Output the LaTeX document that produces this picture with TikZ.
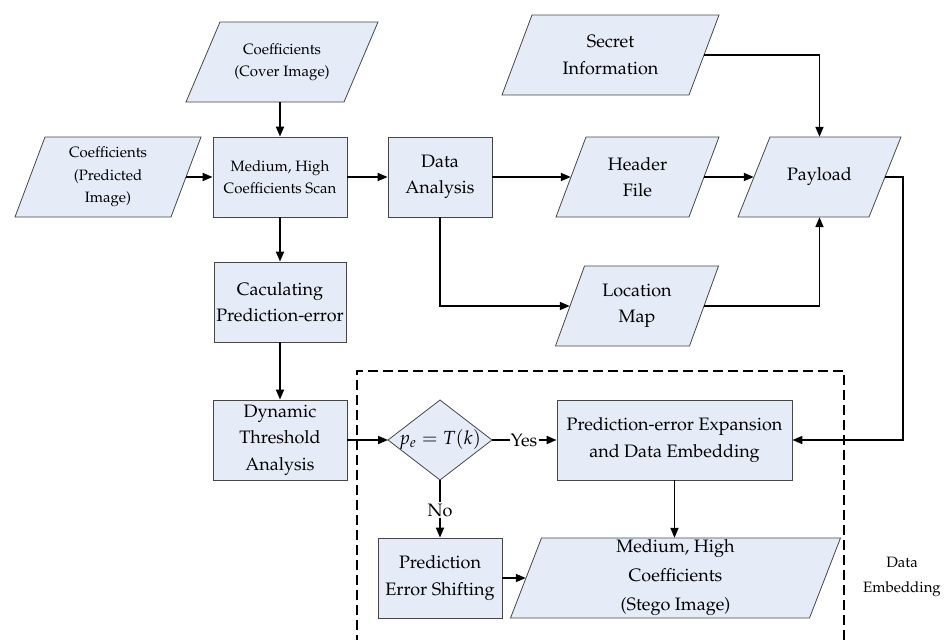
\documentclass[tikz,border=0pt]{standalone}
\usepackage[T1]{fontenc}
\usepackage{mathpazo}
\usetikzlibrary{arrows.meta,calc}
\definecolor{boxfill}{RGB}{230,236,247}
\definecolor{boxline}{RGB}{70,70,70}
\newcommand\fsm{\fontsize{15}{22.5}\selectfont}
\newcommand\fbg{\fontsize{18}{26.5}\selectfont}
% parallelogram: name, cx, cy, midwidth, skew, font, text
\newcommand\pgram[7]{%
  \path[fill=boxfill,draw=boxline,line width=0.8pt]
    ({#2-#4/2-#5/2},{#3+40}) -- ({#2+#4/2-#5/2},{#3+40}) --
    ({#2+#4/2+#5/2},{#3-40}) -- ({#2-#4/2+#5/2},{#3-40}) -- cycle;
  \node[txt,minimum width=#4pt,font=#6] (#1) at (#2,#3) {#7};}
\tikzset{
  txt/.style={rectangle,inner sep=0pt,minimum height=80pt,align=center},
  procbox/.style={rectangle,draw=boxline,fill=boxfill,line width=0.8pt,
    inner sep=0pt,minimum height=80pt,align=center,font=\fbg},
  arr/.style={line width=1.7pt,-{Triangle[length=10pt,width=8pt]}},
  ln/.style={line width=1.7pt},
  dashbox/.style={line width=1.6pt,dash pattern=on 10pt off 5pt},
  lbl/.style={inner sep=1pt,font=\fbg}
}
\begin{document}
\begin{tikzpicture}[x=1pt,y=-1pt]
\useasboundingbox (0,0) rectangle (946,640);
% dashed region
\draw[dashbox] (357,645) -- (357,371) -- (844,371) -- (844,645);
% input parallelograms
\pgram{cover}{282}{62}{158}{34}{\fsm}{Coefficients\\(Cover Image)}
\pgram{pred}{108}{177}{156}{30}{\fsm}{Coefficients\\(Predicted\\Image)}
\pgram{secret}{610.5}{55}{187}{30}{\fbg}{Secret\\Information}
\pgram{header}{637.5}{177}{133}{30}{\fbg}{Header\\File}
\pgram{payload}{819.5}{177}{131}{32}{\fbg}{Payload}
\pgram{loc}{637}{306}{134}{29}{\fbg}{Location\\Map}
% process boxes
\node[procbox,minimum width=134pt,font=\fsm,align=center] (scan) at (280,177) {Medium, High\\Coefficients Scan};
\node[procbox,minimum width=104pt] (da) at (440,177) {Data\\Analysis};
\node[procbox,minimum width=132pt] (calc) at (280,302) {Caculating\\Prediction-error};
\node[procbox,minimum width=134pt] (dyn) at (280,440) {Dynamic\\Threshold\\Analysis};
\node[procbox,minimum width=235pt] (pe) at (674.5,440) {Prediction-error Expansion\\and Data Embedding};
\node[procbox,minimum width=124pt] (pes) at (440,578) {Prediction\\Error Shifting};
\pgram{stego}{675.5}{578}{299}{31}{\fontsize{18}{29}\selectfont}{Medium, High\\Coefficients\\(Stego Image)}
% decision diamond
\path[fill=boxfill,draw=boxline,line width=0.8pt]
  (388,440) -- (440,400) -- (492,440) -- (440,480) -- cycle;
\node[rectangle,inner sep=0pt,minimum width=104pt,minimum height=80pt,font=\fontsize{19}{20}\selectfont] (dia) at (440,440) {$p_e = T(k)$};
% labels
\node[lbl] (yes) at (524,440) {Yes};
\node[lbl] (no) at (440,510) {No};
\node[font=\fontsize{15}{25}\selectfont,align=center] (de) at (902,577) {Data\\Embedding};
% connectors
\draw[arr] (scan.north |- cover.south) -- (scan.north);
\draw[arr] (pred.east) -- (scan.west);
\draw[arr] (scan.east) -- (da.west);
\draw[arr] (da.east) -- (header.west);
\draw[arr] (header.east) -- (payload.west);
\draw[arr] (secret.east) -| (payload.north);
\draw[arr] (loc.east) -| (payload.south);
\draw[arr] (da.south) |- (loc.west);
\draw[arr] (scan.south) -- (calc.north);
\draw[arr] (calc.south) -- (dyn.north);
\draw[arr] (dyn.east) -- (388,440);
\draw[ln] (492,440) -- (yes.west);
\draw[arr] (yes.east) -- (pe.west);
\draw[ln] (440,480) -- (no.north);
\draw[arr] (no.south) -- (pes.north);
\draw[arr] (pe.south) -- (pe.south |- stego.north);
\draw[arr] (pes.east) -- (stego.west);
\draw[arr] (payload.east) -- ++(18,0) |- (pe.east);
\end{tikzpicture}
\end{document}
